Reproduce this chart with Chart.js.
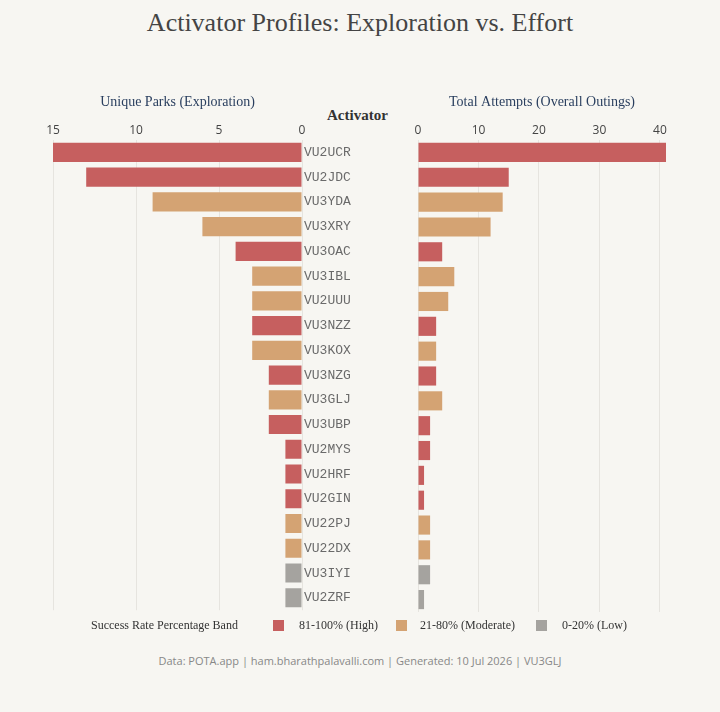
<!DOCTYPE html>
<html>
<head>
<meta charset="utf-8">
<script src="https://cdn.jsdelivr.net/npm/chart.js"></script>
<style>
  body { margin: 0; background: #f7f6f2; width: 720px; height: 712px; position: relative; overflow: hidden; }
  .abs { position: absolute; white-space: nowrap; }
  #title { left: 0; width: 720px; top: 8px; text-align: center; font-family: "Liberation Serif", serif; font-size: 26px; color: #444; }
  #activatorHead { left: 327px; top: 107px; font-family: "Liberation Serif", serif; font-weight: bold; font-size: 15px; color: #333; }
  .leg { font-family: "Liberation Serif", serif; font-size: 12px; color: #333; top: 618px; }
  .sw { position: absolute; width: 11px; height: 11px; top: 620px; }
  #footer { left: 0; width: 720px; top: 653px; text-align: center; font-family: "Open Sans", sans-serif; font-size: 11px; color: #888; }
  canvas { position: absolute; }
</style>
</head>
<body>
<div id="title" class="abs">Activator Profiles: Exploration vs. Effort</div>
<div id="activatorHead" class="abs">Activator</div>
<canvas id="leftChart" style="left:0;top:80px;width:362px;height:540px"></canvas>
<canvas id="rightChart" style="left:400px;top:80px;width:320px;height:540px"></canvas>

<div class="abs leg" style="left:91px">Success Rate Percentage Band</div>
<div class="sw" id="sw0" style="left:273px"></div>
<div class="abs leg" style="left:299px">81-100% (High)</div>
<div class="sw" id="sw1" style="left:396px"></div>
<div class="abs leg" style="left:420px">21-80% (Moderate)</div>
<div class="sw" id="sw2" style="left:536px"></div>
<div class="abs leg" style="left:562px">0-20% (Low)</div>

<div id="footer" class="abs">Data: POTA.app | ham.bharathpalavalli.com | Generated: 10 Jul 2026 | VU3GLJ</div>

<script>
// 数据
const activators = ['VU2UCR','VU2JDC','VU3YDA','VU3XRY','VU3OAC','VU3IBL','VU2UUU','VU3NZZ','VU3KOX','VU3NZG',
                    'VU3GLJ','VU3UBP','VU2MYS','VU2HRF','VU2GIN','VU22PJ','VU22DX','VU3IYI','VU2ZRF'];
const uniqueParks = [15, 13, 9, 6, 4, 3, 3, 3, 3, 2, 2, 2, 1, 1, 1, 1, 1, 1, 1];
const totalAttempts = [41, 15, 14, 12, 4, 6, 5, 3, 3, 3, 4, 2, 2, 1, 1, 2, 2, 2, 1];
const bands = ['High','High','Moderate','Moderate','High','Moderate','Moderate','High','Moderate','High',
               'Moderate','High','High','High','High','Moderate','Moderate','Low','Low'];
const bandNames = ['High', 'Moderate', 'Low'];
const bandColors = { High: '#c65f5f', Moderate: '#d4a373', Low: '#a5a39f' };

bandNames.forEach((b, i) => {
    document.getElementById('sw' + i).style.background = bandColors[b];
});

const barColors = bands.map(b => bandColors[b]);
const tickFont = { family: 'Open Sans', size: 12 };
const gridColor = '#e6e4df';

// 左图：探索
function makeLeft() {
    const ctx = document.getElementById('leftChart');
    return new Chart(ctx, {
        type: 'bar',
        data: {
            labels: activators,
            datasets: [{
                data: uniqueParks,
                backgroundColor: barColors,
                borderWidth: 0,
                barPercentage: 0.77,
                categoryPercentage: 1
            }]
        },
        options: {
            indexAxis: 'y',
            responsive: false,
            animation: false,
            layout: { padding: { left: 53, right: 0, top: 0, bottom: 8 } },
            plugins: { legend: { display: false }, tooltip: { enabled: false } },
            scales: {
                x: {
                    position: 'top',
                    reverse: true,
                    min: 0,
                    max: 15,
                    ticks: { stepSize: 5, color: '#444', font: tickFont, padding: 2, maxRotation: 0 },
                    grid: { color: gridColor, drawTicks: false },
                    border: { display: false },
                    title: {
                        display: true,
                        text: 'Unique Parks (Exploration)',
                        color: '#2a3f5f',
                        font: { family: 'Liberation Serif', size: 14 },
                        padding: { top: 14, bottom: 0 }
                    },
                    afterFit: s => { s.height = 60; }
                },
                y: {
                    position: 'right',
                    ticks: { color: '#6a6a6a', font: { family: 'Liberation Mono', size: 13 }, padding: 2 },
                    grid: { display: false, drawTicks: false },
                    border: { display: false },
                    afterFit: s => { s.width = 60; }
                }
            }
        }
    });
}

// 右图：尝试次数
function makeRight() {
    const ctx = document.getElementById('rightChart');
    return new Chart(ctx, {
        type: 'bar',
        data: {
            labels: activators,
            datasets: [{
                data: totalAttempts,
                backgroundColor: barColors,
                borderWidth: 0,
                barPercentage: 0.77,
                categoryPercentage: 1
            }]
        },
        options: {
            indexAxis: 'y',
            responsive: false,
            animation: false,
            layout: { padding: { left: 18, right: 54, top: 0, bottom: 8 } },
            plugins: { legend: { display: false }, tooltip: { enabled: false } },
            scales: {
                x: {
                    position: 'top',
                    min: 0,
                    max: 41,
                    afterBuildTicks: s => { s.ticks = [0, 10, 20, 30, 40].map(v => ({ value: v })); },
                    ticks: { color: '#444', font: tickFont, padding: 2, maxRotation: 0 },
                    grid: { color: gridColor, drawTicks: false },
                    border: { display: false },
                    title: {
                        display: true,
                        text: 'Total Attempts (Overall Outings)',
                        color: '#2a3f5f',
                        font: { family: 'Liberation Serif', size: 14 },
                        padding: { top: 14, bottom: 0 }
                    },
                    afterFit: s => { s.height = 60; }
                },
                y: {
                    display: false
                }
            }
        }
    });
}

makeLeft();
makeRight();
</script>
</body>
</html>
